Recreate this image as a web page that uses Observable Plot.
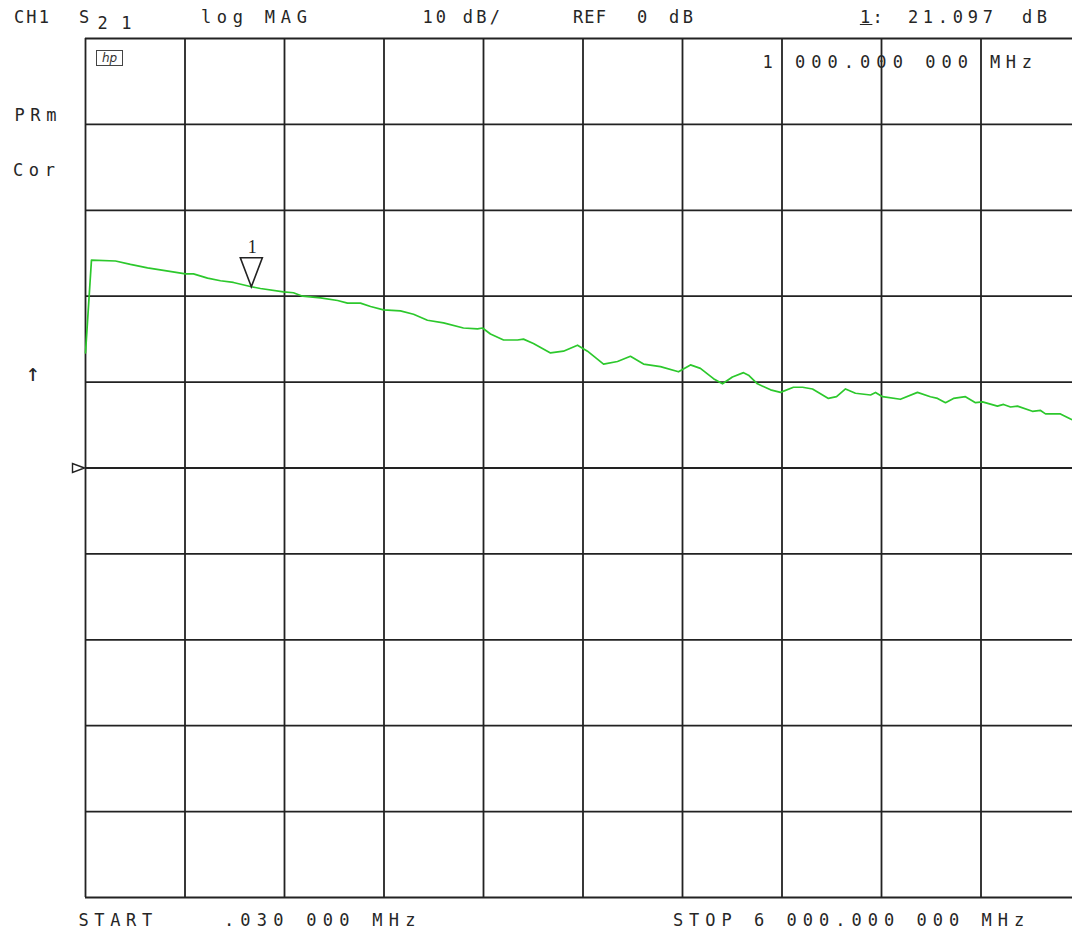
<!DOCTYPE html>
<html><head><meta charset="utf-8">
<script src="https://cdn.jsdelivr.net/npm/d3@7"></script>
<script src="https://cdn.jsdelivr.net/npm/@observablehq/plot@0.6"></script>
<style>
html,body{margin:0;padding:0;overflow:hidden;background:#fff;}
#wrap{position:relative;width:1080px;height:930px;overflow:hidden;}
#wrap svg{position:absolute;left:0;top:0;}
.t{position:absolute;font-family:"DejaVu Sans Mono",monospace;font-size:17px;line-height:17px;color:#262626;white-space:pre;}
.hp{position:absolute;left:96px;top:50px;width:25px;height:14px;border:1.5px solid #444;font:italic 12px "DejaVu Sans",sans-serif;line-height:14px;text-align:center;color:#333;}
</style></head><body><div id="wrap"></div><script>
const startMHz = 0.03;
const stopMHz = 6000;
const refDb = 0;
const dbPerDiv = 10;
const divisions = 10;
const markerMHz = 1000;
const markerDb = 21.097;

const traceMHz = [0.03,36,181,271,374,470,603,651,736,814,892,1000,1055,1194,1254,1309,1417,1520,1580,1658,1719,1797,1899,1978,2062,2159,2279,2364,2394,2442,2521,2605,2641,2701,2804,2882,2967,3027,3124,3208,3286,3365,3467,3576,3648,3708,3787,3841,3901,3968,3998,4052,4131,4191,4269,4324,4384,4480,4529,4583,4643,4734,4764,4806,4914,5017,5095,5138,5186,5234,5306,5367,5409,5499,5536,5578,5620,5710,5759,5789,5879,5940,6000];
const traceDb = [13.4,24.2,24.1,23.7,23.3,23.0,22.6,22.6,22.1,21.8,21.6,21.1,20.9,20.5,20.4,20.0,19.8,19.5,19.2,19.2,18.8,18.4,18.3,17.9,17.2,16.9,16.3,16.2,16.3,15.6,14.9,14.9,15.0,14.5,13.4,13.6,14.3,13.6,12.1,12.4,13.0,12.1,11.8,11.2,12.0,11.6,10.4,9.8,10.6,11.1,10.8,9.8,9.1,8.8,9.4,9.4,9.2,8.1,8.3,9.2,8.7,8.5,8.8,8.3,8.0,8.8,8.3,8.1,7.6,8.1,8.3,7.6,7.7,7.2,7.4,7.1,7.2,6.6,6.7,6.3,6.3,5.7,5.2];

const headerLabels = ["CH1", "S", "21", "log MAG", "10 dB/", "REF", "0", "dB", "1", ":", "21.097", "dB"];
const readoutLabels = ["1", "000.000 000", "MHz"];
const footerLabels = ["START", ".030 000 MHz", "STOP 6 000.000 000 MHz"];
const sideLabels = ["PRm", "Cor", "\u2191"];

// ---- chart ----
const trace = traceMHz.map((f, i) => ({f, db: traceDb[i]}));
const marker = {f: markerMHz, db: markerDb};
const xGrid = d3.range(divisions + 1).map(i => startMHz + i * (stopMHz - startMHz) / divisions);
const yGrid = d3.range(divisions + 1).map(i => refDb - (divisions / 2) * dbPerDiv + i * dbPerDiv);

const downTri = {draw(c) { c.moveTo(0, 0); c.lineTo(-11, -29); c.lineTo(11, -29); c.closePath(); }};
const refTri = {draw(c) { c.moveTo(-1, 0); c.lineTo(-13, -4.5); c.lineTo(-13, 4.5); c.closePath(); }};

const chart = Plot.plot({
  width: 1080, height: 930,
  marginLeft: 85, marginRight: 0, marginTop: 38, marginBottom: 33,
  style: "max-width:none;background:white;",
  x: {domain: [startMHz, stopMHz], axis: null},
  y: {domain: [yGrid[0], yGrid[divisions]], axis: null},
  marks: [
    Plot.ruleX(xGrid, {stroke: "#222", strokeWidth: 1.8}),
    Plot.ruleY(yGrid, {stroke: "#222", strokeWidth: 1.8}),
    Plot.line(trace, {x: "f", y: "db", stroke: "#2cc82c", strokeWidth: 1.7}),
    Plot.dot([marker], {x: "f", y: "db", symbol: downTri, stroke: "#222", strokeWidth: 1.6, fill: "none"}),
    Plot.text([marker], {x: "f", y: "db", text: () => "1", dy: -40, dx: 1, fontFamily: "Liberation Serif", fontSize: 18, fill: "#222"}),
    Plot.dot([{f: startMHz, db: refDb}], {x: "f", y: "db", symbol: refTri, stroke: "#222", strokeWidth: 1.4, fill: "white"})
  ]
});
const wrap = document.getElementById("wrap");
wrap.appendChild(chart);

// ---- screen annotations (HTML text over the margins) ----
const FS = 17;
const ADV = 0.6021 * FS;
function place(text, cx, cy, adv, html, size) {
  const fs = size || FS;
  const a = 0.6021 * fs;
  const s = document.createElement("div");
  s.className = "t";
  s.style.fontSize = fs + "px";
  s.style.lineHeight = fs + "px";
  s.style.left = (cx - a / 2) + "px";
  s.style.top = (cy - 0.48 * fs) + "px";
  s.style.letterSpacing = (adv - a) + "px";
  if (html) s.innerHTML = html; else s.textContent = text;
  wrap.appendChild(s);
}
const H = headerLabels;
place(H[0], 19, 17, 12.5);
place(H[1], 84, 17, 16);
place(H[2], 102.5, 23, 24);
place(H[3], 206, 17, 16);
place(H[4], 427.5, 17, 13.5);
place(H[5], 578, 17, 11.5);
place(H[6], 642, 17, 16);
place(H[7], 674, 17, 14);
place(H[8] + H[9], 865, 17, 12.5, "<u>" + H[8] + "</u>" + H[9]);
place(H[10], 913, 17, 15);
place(H[11], 1027, 17, 15);

place(readoutLabels[0], 767.5, 62, 16);
place(readoutLabels[1], 800, 62, 16.3);
place(readoutLabels[2], 995, 62, 16);

place(footerLabels[0], 83.5, 920, 15.9);
place(footerLabels[1], 229, 920, 16.5);
place(footerLabels[2], 678, 920, 16.24);

place(sideLabels[0], 19.5, 115, 16);
place(sideLabels[1], 18, 170, 16);
place(sideLabels[2], 33, 373, 16, null, 24);

const hp = document.createElement("div");
hp.className = "hp";
hp.textContent = "hp";
wrap.appendChild(hp);
</script></body></html>
